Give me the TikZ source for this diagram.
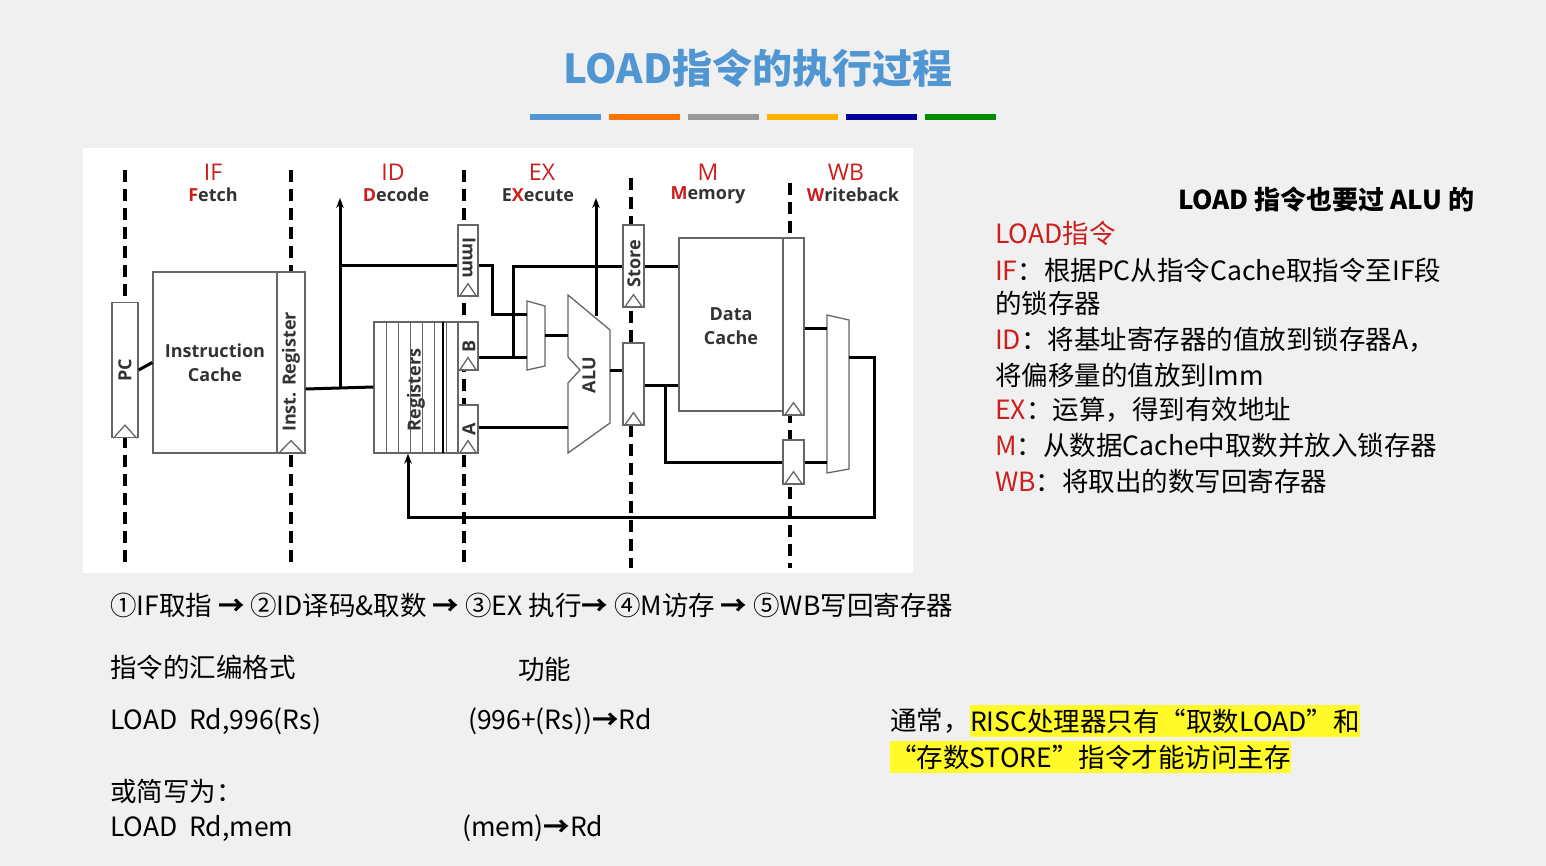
\documentclass[tikz,border=0pt]{standalone}
\usepackage{fontspec}
\setmainfont{Noto Sans CJK SC}
\newfontfamily\diafont{Open Sans}
\usetikzlibrary{positioning,arrows.meta}
\definecolor{titleblue}{RGB}{80,150,210}
\definecolor{stagered}{RGB}{205,30,30}
\definecolor{hiyellow}{RGB}{255,250,40}

\tikzset{
  stage/.style={dash pattern=on 12pt off 7pt, line width=3.8pt},
  reg/.style={draw=black!60, fill=white, line width=1.3pt, inner sep=0pt},
  wire/.style={line width=3pt},
  dia/.style={font=\diafont\bfseries\fontsize{18}{21}\selectfont, text=black!80, inner sep=0pt},
  txt/.style={font=\fontsize{26.5}{30}\selectfont, anchor=west, inner sep=0pt},
}
\newcommand\clk[1]{\draw[reg, fill=none] ([xshift=2pt]#1.south west) -- ([yshift=13pt]#1.south) -- ([xshift=-2pt]#1.south east);}

\begin{document}
\begin{tikzpicture}[x=1pt, y=-1pt]
\useasboundingbox (0,0) rectangle (1546,866);
\fill[black!6] (0,0) rectangle (1546,866);
\fill[white] (83,148) rectangle (913,573);

% title and colour bar
\node[font=\fontsize{40}{44}\selectfont\bfseries, text=titleblue] (title) at (758,68) {LOAD指令的执行过程};
\foreach \xa/\col in {530/titleblue, 609/orange!90!red, 688/black!40, 767/orange!60!yellow, 846/blue!60!black, 925/green!55!black}
  \fill[\col] (\xa,114) rectangle ++(71,6);

% stage boundaries
\foreach \xs/\ys in {125/170, 291/170, 464/170, 631/178, 790/183}
  \draw[stage] (\xs,\ys) -- (\xs,568);

% stage names
\foreach \xs/\nm in {213/IF, 393/ID, 542/EX, 708/M, 846/WB}
  \node[dia, text=stagered, font=\diafont\fontsize{23}{25}\selectfont] at (\xs,172) {\nm};
\node[dia] (fetch) at (213,195) {\textcolor{stagered}{F}etch};
\node[dia] (decode) at (396,195) {\textcolor{stagered}{D}ecode};
\node[dia] (execute) at (538,195) {E\textcolor{stagered}{X}ecute};
\node[dia] (memory) at (708,195) {\textcolor{stagered}{M}emory};
\node[dia] (writeback) at (853,195) {\textcolor{stagered}{W}riteback};

% blocks
\node[reg, minimum width=26, minimum height=135] (pc) at (125,370) {};
\node[reg, minimum width=124, minimum height=181] (icache) at (215,362.5) {};
\node[reg, minimum width=28, minimum height=181] (ir) at (291,362.5) {};
\node[reg, minimum width=84, minimum height=131] (regs) at (416,387.5) {};
\node[reg, minimum width=20, minimum height=71] (imm) at (468,260.5) {};
\node[reg, minimum width=20, minimum height=48] (rb) at (468,346) {};
\node[reg, minimum width=20, minimum height=48] (ra) at (468,429) {};
\node[reg, minimum width=21, minimum height=82] (store) at (633.5,266) {};
\node[reg, minimum width=21, minimum height=82] (aluout) at (633.5,384) {};
\node[reg, minimum width=104, minimum height=173] (dcache) at (731,324.5) {};
\node[reg, minimum width=21, minimum height=177] (mdr) at (793.5,326.5) {};
\node[reg, minimum width=21, minimum height=44] (pass) at (793.5,462) {};
\foreach \xr in {386,398,410,422,434,446}
  \draw[black!60, line width=1pt] (\xr,322) -- (\xr,453);
\draw[line width=1.5pt] (443,322) -- (443,453);
\foreach \rg in {pc,ir,imm,rb,ra,store,aluout,mdr,pass} {\clk{\rg}}

\node[dia, rotate=90] at (pc) {PC};
\node[dia, align=center] at (icache) {Instruction\\[3pt]Cache};
\node[dia, rotate=90] at (291,372) {Inst. Register};
\node[dia, rotate=90] at (416,390) {Registers};
\node[dia, rotate=-90] at (469,258) {Imm};
\node[dia, rotate=90] at (469,346) {B};
\node[dia, rotate=90] at (469,429) {A};
\node[dia, rotate=90] at (634,264) {Store};
\node[dia, align=center] at (731,326) {Data\\[3pt]Cache};

% muxes and ALU
\draw[reg] (527,301) -- (545,306) -- (545,366) -- (527,370) -- cycle;
\draw[reg] (827,315) -- (849,320) -- (849,469) -- (827,473) -- cycle;
\draw[reg] (568,295) -- (610,330) -- (610,423) -- (568,453) -- (568,383) -- (580,370) -- (568,357) -- cycle;
\node[dia, rotate=90] (alu) at (589,375) {ALU};

% wires
\draw[wire] (pc.east) -- (icache.west);
\draw[wire] (ir.east |- 0,389) -- (regs.west |- 0,387);
\draw[wire, -{Stealth[length=10pt]}] (340,389) -- (340,198);
\draw[wire] (340,266) -- (imm.west |- 0,266);
\draw[wire] (imm.east |- 0,266) -- (492,266) -- (492,315) -- (527,315);
\draw[wire] (rb.east |- 0,357) -- (527,357);
\draw[wire] (513,357) -- (513,267) -- (store.west |- 0,267);
\draw[wire] (store.east |- 0,267) -- (dcache.west |- 0,267);
\draw[wire] (545,335) -- (568,335);
\draw[wire] (ra.east |- 0,427) -- (568,427);
\draw[wire, -{Stealth[length=10pt]}] (596,316) -- (596,198);
\draw[wire] (610,370) -- (aluout.west |- 0,370);
\draw[wire] (aluout.east |- 0,385) -- (dcache.west |- 0,385);
\draw[wire] (665,385) -- (665,462) -- (pass.west |- 0,462);
\draw[wire] (mdr.east |- 0,328) -- (827,328);
\draw[wire] (pass.east |- 0,462) -- (827,462);
\draw[wire, -{Stealth[length=10pt]}] (849,357) -- (874,357) -- (874,517) -- (408,517) -- (regs.south -| 408,0);

% notes on the right
\node[txt, font=\fontsize{26}{30}\selectfont\bfseries] (note) at (1178,200) {LOAD 指令也要过 ALU 的};
\node[txt, text=stagered] (ld) at (995,233) {LOAD指令};
\node[txt] (l1) at (995,270) {\textcolor{stagered}{IF}：根据PC从指令Cache取指令至IF段};
\node[txt] (l2) at (995,303) {的锁存器};
\node[txt] (l3) at (995,340) {\textcolor{stagered}{ID}：将基址寄存器的值放到锁存器A，};
\node[txt] (l4) at (995,375) {将偏移量的值放到Imm};
\node[txt] (l5) at (995,410) {\textcolor{stagered}{EX}：运算，得到有效地址};
\node[txt] (l6) at (995,445) {\textcolor{stagered}{M}：从数据Cache中取数并放入锁存器};
\node[txt] (l7) at (995,481) {\textcolor{stagered}{WB}：将取出的数写回寄存器};

% bottom text
\node[txt] (steps) at (110,605) {①IF取指 \textbf{→} ②ID译码\&取数 \textbf{→} ③EX 执行\textbf{→} ④M访存 \textbf{→} ⑤WB写回寄存器};
\node[txt] (fmt) at (110,667) {指令的汇编格式};
\node[txt] (func) at (518,669) {功能};
\node[txt] (ex1) at (110,721) {LOAD\ \ Rd,996(Rs)};
\node[txt] (fx1) at (468,721) {(996+(Rs))\textbf{→}Rd};
\node[txt] (ex2) at (110,791) {或简写为：};
\node[txt] (ex3) at (110,828) {LOAD\ \ Rd,mem};
\node[txt] (fx3) at (462,828) {(mem)\textbf{→}Rd};
\node[txt] (usu) at (890,721) {通常，};
\node[txt, fill=hiyellow, inner ysep=4pt] (hi1) at (usu.east) {RISC处理器只有“取数LOAD”和};
\node[txt, fill=hiyellow, inner ysep=4pt] (hi2) at (890,757) {“存数STORE”指令才能访问主存};
\end{tikzpicture}
\end{document}
